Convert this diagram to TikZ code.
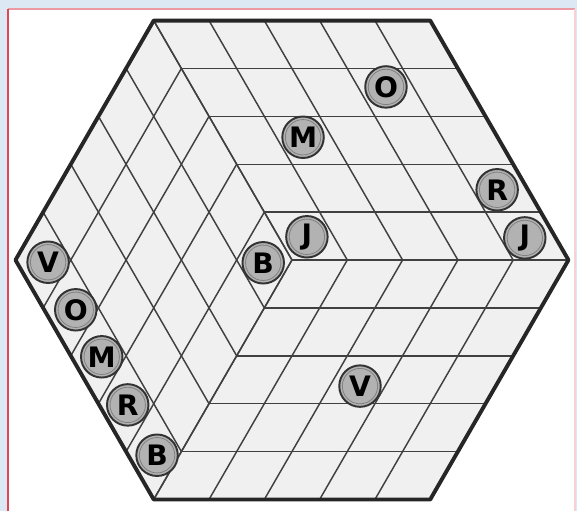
\documentclass[tikz,border=0pt]{standalone}
\usepackage{fontspec}
\newfontfamily\tokenfont{DejaVu Sans}
\usetikzlibrary{positioning}
\definecolor{pagebg}{HTML}{DCE8F4}
\definecolor{framered}{HTML}{DE4654}
\definecolor{cellgray}{HTML}{F0F0F0}
\definecolor{inkgray}{HTML}{404040}
\tikzset{
  rim/.style      = {line width=2pt, draw=black!85, line join=round},
  gridline/.style = {line width=0.75pt, inkgray},
  token/.style    = {circle, draw=black!80, line width=1pt, fill=black!30,
                     minimum size=7.5mm, inner sep=0pt,
                     path picture={\draw[black!50, line width=0.4pt]
                       (path picture bounding box.center) circle (3.2mm);},
                     font=\tokenfont\bfseries\fontsize{14.5}{14.5}\selectfont},
}

\begin{document}
\begin{tikzpicture}
  \useasboundingbox (-5.28,-4.54) rectangle (5.154,4.702);
  % page and frame
  \fill[pagebg] (-5.28,-4.54) rectangle (5.154,4.702);
  \fill[white] (-5.136,-4.54) rectangle (5.118,4.539);
  \draw[framered!55, line width=0.9pt] (-5.136,4.539) -- (5.118,4.539);
  \draw[framered, line width=1.1pt] (-5.136,-4.54) -- (-5.136,4.539);
  \draw[framered!25, line width=0.6pt] (5.118,4.539) -- (5.118,-4.54);
  % hexagon: three faces of 5x5 cells
  \fill[cellgray] (0:5) -- (60:5) -- (120:5) -- (180:5) -- (240:5) -- (300:5) -- cycle;
  \foreach \i in {0,...,4} {
    % top face
    \draw[gridline] (120:\i) -- ++(5,0);
    \draw[gridline] (\i,0) -- ++(120:5);
    % left face
    \draw[gridline] (120:\i) -- ++(240:5);
    \draw[gridline] (240:\i) -- ++(120:5);
    % bottom face
    \draw[gridline] (\i,0) -- ++(240:5);
    \draw[gridline] (240:\i) -- ++(5,0);
  }
  \draw[rim] (0:5) -- (60:5) -- (120:5) -- (180:5) -- (240:5) -- (300:5) -- cycle;
  % tokens on the top face
  \node[token] (oTop)   at (1.70,3.13)  {O};
  \node[token] (mTop)   at (0.20,2.22)  {M};
  \node[token] (rTop)   at (3.71,1.27)  {R};
  \node[token] (jEdge)  at (4.21,0.40)  {J};
  \node[token] (jMid)   at (0.27,0.42)  {J};
  \node[token] (bMid)   at (-0.52,-0.05) {B};
  % token on the bottom face
  \node[token] (vLow)   at (1.23,-2.28) {V};
  % tokens along the lower left edge
  \node[token] (vLeft)  at (-4.41,-0.04) {V};
  \node[token] (oLeft)  at (-3.91,-0.90) {O};
  \node[token] (mLeft)  at (-3.44,-1.75) {M};
  \node[token] (rLeft)  at (-2.97,-2.62) {R};
  \node[token] (bLeft)  at (-2.44,-3.53) {B};
\end{tikzpicture}
\end{document}
